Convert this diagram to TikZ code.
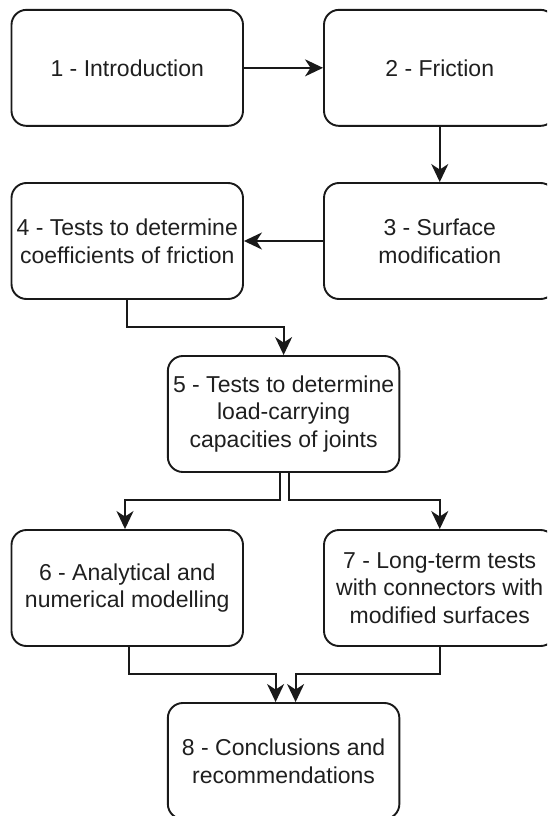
\documentclass[tikz,border=0pt]{standalone}
\usepackage{fontspec}
\setmainfont{Liberation Sans}
\usetikzlibrary{arrows.meta}
\begin{document}
\begin{tikzpicture}[x=1pt,y=-1pt,
  box/.style={draw=black!90, line width=1.9pt, rounded corners=15pt,
    minimum width=231.5pt, minimum height=116pt, inner sep=0pt,
    align=center, font=\fontsize{23}{27.7}\selectfont, text=black!88},
  conn/.style={draw=black!90, line width=1.9pt,
    -{Stealth[length=18pt,width=17pt,inset=5.5pt]}}]
\clip (0,0) rectangle (547,816);
\node[box] (b1) at (127.25,67.85) {1 - Introduction};
\node[box] (b2) at (439.75,67.85) {2 - Friction};
\node[box] (b3) at (439.75,241) {3 - Surface\\modification};
\node[box] (b4) at (127.25,241) {4 - Tests to determine\\coefficients of friction};
\node[box] (b5) at (283.6,414) {5 - Tests to determine\\load-carrying\\capacities of joints};
\node[box] (b6) at (127.25,588) {6 - Analytical and\\numerical modelling};
\node[box] (b7) at (439.75,588) {7 - Long-term tests\\with connectors with\\modified surfaces};
\node[box] (b8) at (283.6,761) {8 - Conclusions and\\recommendations};
\draw[conn] (b1.east) -- (b2.west);
\draw[conn] (b2.south) -- (b3.north);
\draw[conn] (b3.west) -- (b4.east);
\draw[conn] (b4.south) -- ++(0,26.7) -| (b5.north);
\draw[conn] ([xshift=-3.6pt]b5.south) -- ++(0,27) -| ([xshift=-2.25pt]b6.north);
\draw[conn] ([xshift=5.4pt]b5.south) -- ++(0,27) -| (b7.north);
\draw[conn] ([xshift=2pt]b6.south) -- ++(0,26.7) -| ([xshift=-8pt]b8.north);
\draw[conn] (b7.south) -- ++(0,26.7) -| ([xshift=12pt]b8.north);
\end{tikzpicture}
\end{document}
